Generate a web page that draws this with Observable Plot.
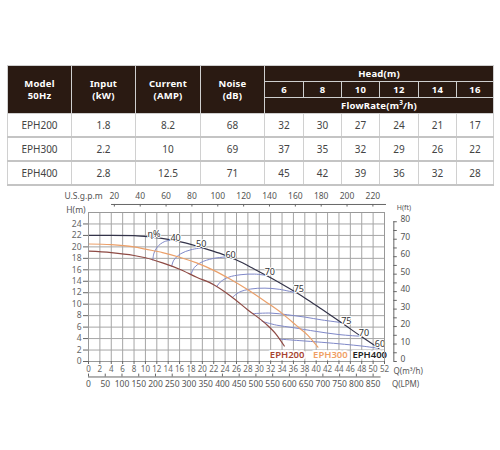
<!DOCTYPE html>
<html><head><meta charset="utf-8">
<script src="https://cdn.jsdelivr.net/npm/d3@7"></script>
<script src="https://cdn.jsdelivr.net/npm/@observablehq/plot@0.6"></script>
<style>
html,body{margin:0;padding:0;background:#fff;width:500px;height:450px;overflow:hidden;font-family:"Noto Sans",sans-serif;}
#tbl{position:absolute;left:7px;top:65px;}
table{border-collapse:collapse;table-layout:fixed;width:486px;}
th{background:#2a1a12;color:#fff;font-weight:700;font-size:9.5px;line-height:11.5px;padding:0;text-align:center;border:1px solid #cfcfcf;letter-spacing:0.2px;}
tr.h1 th.sub{height:15px;}
tr.h2 th{height:15px;}
tr.h3 th{height:15px;}
td{color:#444;font-size:10px;text-align:center;padding:0;height:22px;border-left:1px solid #d0d0d0;border-right:1px solid #d0d0d0;border-bottom:2px solid #c4c4c4;}
sup{font-size:6.5px;vertical-align:4px;line-height:0;}
#chart{position:absolute;left:0;top:185px;}
</style></head><body>
<div id="tbl"></div><div id="chart"></div>
<script>
// ---- table data ----
const models = ["EPH200", "EPH300", "EPH400"];
const inputKW = ["1.8", "2.2", "2.8"];
const currentAmp = ["8.2", "10", "12.5"];
const noiseDb = ["68", "69", "71"];
const heads = [6, 8, 10, 12, 14, 16];
const flowEPH200 = [32, 30, 27, 24, 21, 17];
const flowEPH300 = [37, 35, 32, 29, 26, 22];
const flowEPH400 = [45, 42, 39, 36, 32, 28];
const flows = [flowEPH200, flowEPH300, flowEPH400];
const colWidths = [64, 64, 65, 64, 39, 38, 38, 39, 38, 37];

// ---- chart data (Q m3/h, H m) ----
const curveEPH200 = [[0,19.25],[4,19.0],[8,18.5],[10,18.1],[13,17.2],[16,16.1],[19,14.7],[22,13.4],[25,11.4],[28,9.0],[31,6.7],[33,4.7],[34.4,2.7]];
const curveEPH300 = [[0,20.5],[4,20.4],[8,20.0],[10,19.6],[13,19.0],[16,18.2],[19,17.2],[22,15.9],[25,14.3],[28,12.5],[31,10.5],[34,8.4],[36.5,6.3],[38.5,4.6],[40.3,2.5]];
const curveEPH400 = [[0,22],[4,22.0],[8,21.95],[11,21.7],[14,21.3],[17,20.7],[20,19.85],[23,18.9],[26,17.7],[29,16.2],[32,14.6],[35,12.9],[38,11.1],[41,9.1],[44.4,6.8],[48,4.3],[51,2.3]];
const eff40 = [[11.3,17.7],[11.5,18.9],[12.1,20.0],[13.3,20.9],[15.0,21.25]];
const eff50 = [[14.6,16.6],[15.0,17.7],[16.2,18.8],[18.0,19.5],[20.0,19.85]];
const eff60 = [[18.0,15.2],[18.6,16.4],[19.8,17.3],[21.8,17.95],[24.5,18.3]];
const eff70 = [[22.5,13.05],[23.2,13.9],[24.6,14.7],[26.8,15.15],[29.2,15.25],[31.5,15.0]];
const eff75a = [[25.3,11.2],[26.5,12.1],[28.5,12.65],[31,12.8],[33.5,12.6],[36.4,12.0]];
const eff75b = [[28.9,8.35],[32,8.45],[35,8.15],[38,7.75],[41,7.25],[44.4,6.8]];
const eff70b = [[30.5,7.0],[33,6.35],[36,5.9],[40,5.25],[44,4.7],[47.8,4.4]];
const eff60b = [[33.6,3.9],[37,3.65],[41,3.35],[45,3.0],[48,2.7],[51,2.3]];
const effLabelText = ["η%", "40", "50", "60", "70", "75", "75", "70", "60"];
const effLabelQ = [11.5, 15.3, 19.8, 24.95, 31.85, 36.95, 45.3, 48.4, 51.2];
const effLabelH = [22.25, 21.5, 20.45, 18.6, 15.55, 12.6, 7.0, 4.95, 3.1];
const pumpLabelQ = [34.9, 42.5, 49.4];
const pumpColors = ["#a8442f", "#f0a064", "#222222"];
const lineColors = ["#8e4a44", "#eba06a", "#34344a"];

const qTicks = [0,2,4,6,8,10,12,14,16,18,20,22,24,26,28,30,32,34,36,38,40,42,44,46,48,50,52];
const hGrid = [0,2,4,6,8,10,12,14,16,18,20,22,24,26];
const hTicks = [0,2,4,6,8,10,12,14,16,18,20,22,24];
const gpmTicks = [20,40,60,80,100,120,140,160,180,200,220];
const lpmTicks = [0,50,100,150,200,250,300,350,400,450,500,550,600,650,700,750,800,850];
const ftTicks = [0,5,10,15,20,25,30,35,40,45,50,55,60,65,70,75,80];
const ftLabels = [0,10,20,30,40,50,60,70,80];
const GPM_TO_Q = 0.2271;
const LPM_TO_Q = 50 / 850;
const FT_TO_M = 0.3048;

// ---- build table ----
(function(){
  let h = '<table><colgroup>' + colWidths.map(w => `<col style="width:${w}px">`).join('') + '</colgroup>';
  h += '<tr class="h1"><th rowspan="3">Model<br>50Hz</th><th rowspan="3">Input<br>(kW)</th><th rowspan="3">Current<br>(AMP)</th><th rowspan="3">Noise<br>(dB)</th><th class="sub" colspan="6">Head(m)</th></tr>';
  h += '<tr class="h2">' + heads.map(v => `<th>${v}</th>`).join('') + '</tr>';
  h += '<tr class="h3"><th colspan="6">FlowRate(m<sup>3</sup>/h)</th></tr>';
  models.forEach((m, i) => {
    h += `<tr><td>${m}</td><td>${inputKW[i]}</td><td>${currentAmp[i]}</td><td>${noiseDb[i]}</td>` + flows[i].map(v => `<td>${v}</td>`).join('') + '</tr>';
  });
  h += '</table>';
  document.getElementById('tbl').innerHTML = h;
})();

// ---- chart ----
const X = d => d[0], Y = d => d[1];
const effCurves = [eff40, eff50, eff60, eff70, eff75a, eff75b, eff70b, eff60b];
const axisCol = "#666", txtCol = "#555";
const chart = Plot.plot({
  width: 500, height: 215,
  marginLeft: 88, marginRight: 116, marginTop: 27, marginBottom: 39,
  x: {domain: [0, 52], axis: null},
  y: {domain: [0, 26], axis: null},
  style: {fontFamily: "Noto Sans", fontSize: "8.5px", color: txtCol, background: "transparent", overflow: "visible"},
  marks: [
    Plot.ruleX(qTicks, {y1: 0, y2: 26, stroke: "#a6a6a6", strokeWidth: 1}),
    Plot.ruleY(hGrid, {x1: 0, x2: 52, stroke: "#a6a6a6", strokeWidth: 1}),
    ...effCurves.map(c => Plot.line(c, {x: X, y: Y, stroke: "#7f88c8", strokeWidth: 1, curve: "catmull-rom"})),
    Plot.line(curveEPH200, {x: X, y: Y, stroke: lineColors[0], strokeWidth: 1.2, curve: "monotone-x"}),
    Plot.line(curveEPH300, {x: X, y: Y, stroke: lineColors[1], strokeWidth: 1.2, curve: "monotone-x"}),
    Plot.line(curveEPH400, {x: X, y: Y, stroke: lineColors[2], strokeWidth: 1.2, curve: "monotone-x"}),
    Plot.text(effLabelText, {x: (d, i) => effLabelQ[i], y: (d, i) => effLabelH[i], text: d => d, fill: "#333", fontSize: 9, stroke: "white", strokeWidth: 2}),
    Plot.text(models, {x: (d, i) => pumpLabelQ[i], y: 1.1, text: d => d, fill: (d, i) => pumpColors[i], stroke: "white", strokeWidth: 4, fontSize: 9.5, fontWeight: 600}),
    Plot.frame({stroke: "#999"}),
    // left axis
    Plot.axisY({ticks: hTicks, tickSize: 5, tickPadding: 2, label: null, fontSize: 8.5, color: axisCol}),
    // bottom axis m3/h
    Plot.axisX({ticks: qTicks, tickSize: 3, tickPadding: 2, label: null, fontSize: 8, color: axisCol}),
    Plot.text(["Q(m³/h)"], {x: 53.6, y: -1.75, text: d => d, textAnchor: "start", fontSize: 8, fill: txtCol}),
    // LPM axis
    Plot.ruleY([-2.7], {x1: 0, x2: 51.4, stroke: axisCol}),
    Plot.ruleX(lpmTicks, {x: d => d * LPM_TO_Q, y1: -2.7, y2: -2.2, stroke: axisCol}),
    Plot.text(lpmTicks, {x: d => d * LPM_TO_Q, y: -3.9, text: d => String(d), fontSize: 8.5, fill: txtCol}),
    Plot.text(["Q(LPM)"], {x: 53.3, y: -3.95, text: d => d, textAnchor: "start", fontSize: 8, fill: txtCol}),
    // top gpm axis
    Plot.ruleY([27.4], {x1: 4.05, x2: 52.35, stroke: axisCol}),
    Plot.ruleX(gpmTicks, {x: d => d * GPM_TO_Q, y1: 27.4, y2: 26.95, stroke: axisCol}),
    Plot.text(gpmTicks, {x: d => d * GPM_TO_Q, y: 28.8, text: d => String(d), fontSize: 8.5, fill: txtCol}),
    Plot.text(["U.S.g.p.m"], {x: 2.5, y: 28.8, text: d => d, textAnchor: "end", fontSize: 8.5, fill: txtCol}),
    Plot.text(["H(m)"], {x: -0.5, y: 26.4, text: d => d, textAnchor: "end", fontSize: 8.5, fill: txtCol}),
    // right ft axis
    Plot.ruleX([53.64], {y1: 0, y2: 80 * FT_TO_M, stroke: axisCol}),
    Plot.ruleY(ftTicks, {y: d => d * FT_TO_M, x1: 53.64, x2: 54.25, stroke: axisCol}),
    Plot.text(ftLabels, {x: 54.8, y: d => d * FT_TO_M, dy: -2, text: d => String(d), textAnchor: "start", fontSize: 8.5, fill: txtCol}),
    Plot.text(["H(ft)"], {x: 55.4, y: 26.9, text: d => d, fontSize: 7, fill: txtCol})
  ]
});
document.getElementById('chart').appendChild(chart);
</script>
</body></html>
